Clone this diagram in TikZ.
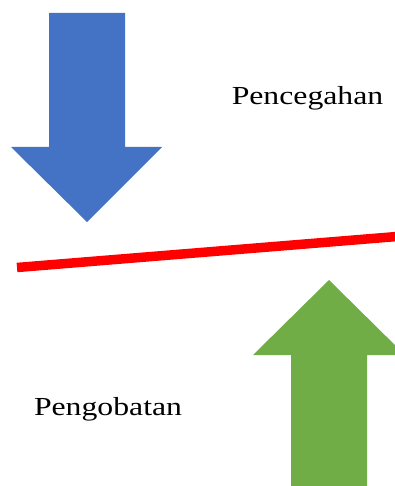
\documentclass[tikz,border=0pt]{standalone}
\usepackage{fontspec}
\setmainfont{Liberation Serif}
\definecolor{arrblue}{HTML}{4472C4}
\definecolor{arrgreen}{HTML}{70AD47}
\definecolor{linered}{HTML}{FF0000}
\newcommand{\widetxt}[1]{\scalebox{1.22}[1]{#1}}
\begin{document}
\begin{tikzpicture}[x=1pt,y=-1pt,
  lbl/.style={font=\fontsize{26}{30}\selectfont, inner sep=0pt, anchor=base}]
\useasboundingbox (0,0) rectangle (395,486);
% blue arrow (down)
\fill[arrblue] (49,13) -- (125,13) -- (125,147) -- (162,147) -- (87,222) -- (11,147) -- (49,147) -- cycle;
% green arrow (up)
\begin{scope}
\clip (0,0) rectangle (395,486);
\fill[arrgreen] (291,486) -- (291,355) -- (253,355) -- (329,280) -- (405,355) -- (367,355) -- (367,486) -- cycle;
\end{scope}
% red line
\coordinate (l1) at (17,267.5);
\coordinate (l2) at (397,236.5);
\draw[linered, line width=9.5pt] (l1) -- (l2);
% labels
\node[lbl] (prev) at (307.5,105) {\widetxt{Pencegahan}};
\node[lbl] (cure) at (108,415) {\widetxt{Pengobatan}};
\end{tikzpicture}
\end{document}
